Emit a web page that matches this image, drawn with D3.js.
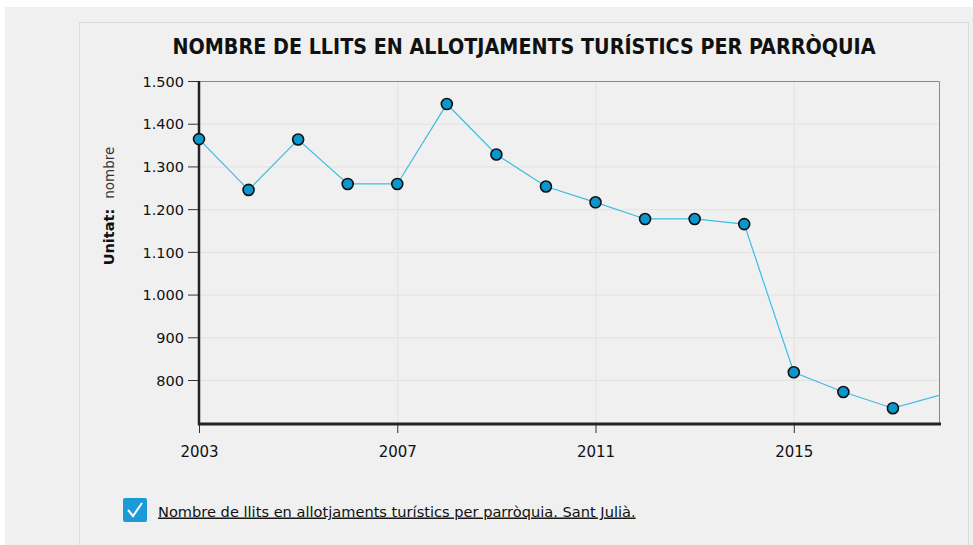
<!DOCTYPE html>
<meta charset="utf-8">
<style>
  body { margin: 0; background: #fff; }
  .grid line { stroke: #e2e2e2; }
  .grid path { display: none; }
  .line { fill: none; stroke: #3ebde3; stroke-width: 1.2; }
  .dot { fill: #0a97cd; stroke: #111; stroke-width: 1.6; }
  text { font-family: "DejaVu Sans", Verdana, sans-serif; fill: #111; }
</style>
<body>
<script src="https://d3js.org/d3.v7.min.js"></script>
<script>

// data
var years = [2003, 2004, 2005, 2006, 2007, 2008, 2009, 2010, 2011, 2012, 2013, 2014, 2015, 2016, 2017, 2018];
var beds = [1364, 1245, 1363, 1259, 1259, 1446, 1328, 1253, 1216, 1177, 1177, 1165, 818, 772, 734, 766];
var yTicks = [800, 900, 1000, 1100, 1200, 1300, 1400, 1500];
var xTicks = [2003, 2007, 2011, 2015];
var title = "NOMBRE DE LLITS EN ALLOTJAMENTS TURÍSTICS PER PARRÒQUIA";
var legendLabel = "Nombre de llits en allotjaments turístics per parròquia. Sant Julià.";

var W = 973, H = 545;
var margin = {top: 81, right: 33, bottom: 121, left: 199},
    width = W - margin.left - margin.right,
    height = H - margin.top - margin.bottom;

var svg = d3.select("body").append("svg")
    .attr("width", W)
    .attr("height", H);

// background panels
svg.append("rect").attr("x", 5).attr("y", 7).attr("width", W - 5).attr("height", H - 7).attr("fill", "#f0f0f0");
svg.append("rect").attr("x", 79.5).attr("y", 22.5).attr("width", 889).attr("height", 540)
    .attr("fill", "#f0f0f0").attr("stroke", "#dcdcdc");

var fmt = function(d) { return d3.format(",")(d).replace(/,/g, "."); };

var x = d3.scaleLinear().domain([2003, 2017.95]).range([0, width]);
var y = d3.scaleLinear().domain([697, 1500]).range([height, 0]);

var g = svg.append("g").attr("transform", "translate(" + margin.left + "," + margin.top + ")");

// gridlines
g.append("g").attr("class", "grid")
    .call(d3.axisLeft(y).tickValues(yTicks).tickSize(-width).tickFormat(""));
g.append("g").attr("class", "grid")
    .attr("transform", "translate(0," + height + ")")
    .call(d3.axisBottom(x).tickValues(xTicks).tickSize(-height).tickFormat(""));

// top and right border
g.append("path").attr("d", "M0,0.5H" + (width - 0.5) + "V" + height)
    .attr("fill", "none").attr("stroke", "#888");

g.append("clipPath").attr("id", "clip")
  .append("rect").attr("width", width).attr("height", height);

var data = years.map(function(d, i) { return {year: d, value: beds[i]}; });

var line = d3.line()
    .x(function(d) { return x(d.year); })
    .y(function(d) { return y(d.value); });

g.append("path").datum(data)
    .attr("class", "line")
    .attr("clip-path", "url(#clip)")
    .attr("d", line);

// y axis
var yAxis = g.append("g").call(d3.axisLeft(y).tickValues(yTicks).tickSize(11).tickPadding(4).tickFormat(fmt));
yAxis.select(".domain").remove();
yAxis.selectAll(".tick line").attr("stroke", "#333");
yAxis.selectAll("text").style("font-size", "14.5px").attr("dy", "0.36em");
g.append("line").attr("x1", 0).attr("x2", 0).attr("y1", 0).attr("y2", height + 1)
    .attr("stroke", "#222").attr("stroke-width", 2.5);

// x axis
var xAxis = g.append("g").attr("transform", "translate(0," + height + ")")
    .call(d3.axisBottom(x).tickValues(xTicks).tickSize(9).tickPadding(13).tickFormat(d3.format("d")));
xAxis.select(".domain").remove();
xAxis.selectAll(".tick line").attr("stroke", "#333");
xAxis.selectAll("text").style("font-size", "15px");
g.append("line").attr("x1", -1).attr("x2", width + 1).attr("y1", height).attr("y2", height)
    .attr("stroke", "#222").attr("stroke-width", 3);

// dots
g.selectAll(".dot")
    .data(data.filter(function(d) { return d.year <= x.domain()[1]; }))
  .enter().append("circle")
    .attr("class", "dot")
    .attr("cx", function(d) { return x(d.year); })
    .attr("cy", function(d) { return y(d.value); })
    .attr("r", 5.5);

// title
svg.append("text")
    .attr("x", 524).attr("y", 54)
    .attr("text-anchor", "middle")
    .style("font-family", "'DejaVu Sans Condensed', 'DejaVu Sans', sans-serif")
    .style("font-size", "21.3px").style("font-weight", "bold")
    .text(title);

// unit label
var ul = svg.append("text")
    .attr("transform", "translate(114,206) rotate(-90)")
    .attr("text-anchor", "middle");
ul.append("tspan").style("font-weight", "bold").style("font-size", "14.5px").text("Unitat:");
ul.append("tspan").attr("dx", 10).style("font-size", "13.5px").style("fill", "#333").text("nombre");

// legend
var lg = svg.append("g").attr("transform", "translate(123,498)");
lg.append("rect").attr("width", 24).attr("height", 24).attr("rx", 2).attr("fill", "#1a9bd7");
lg.append("path").attr("d", "M5,12 L10,18 L19,5").attr("fill", "none")
    .attr("stroke", "#fff").attr("stroke-width", 2);
lg.append("text").attr("x", 35).attr("y", 18.5)
    .style("font-size", "14.6px").style("text-decoration", "underline")
    .text(legendLabel);

</script>
</body>
